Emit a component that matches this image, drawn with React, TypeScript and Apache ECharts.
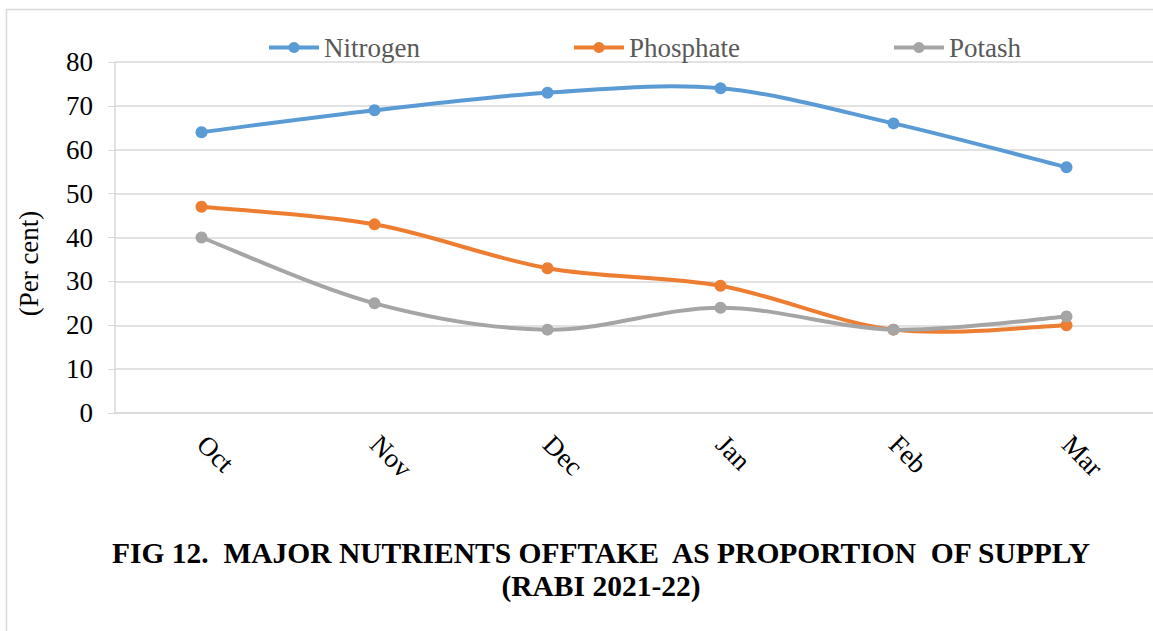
import React, { useEffect, useRef } from "react";
import * as echarts from "echarts";

const months = ["Oct", "Nov", "Dec", "Jan", "Feb", "Mar"];
const nitrogen = [64, 69, 73, 74, 66, 56];
const phosphate = [47, 43, 33, 29, 19, 20];
const potash = [40, 25, 19, 24, 19, 22];
const seriesNames = ["Nitrogen", "Phosphate", "Potash"];
const seriesColors = ["#5B9BD5", "#ED7D31", "#A5A5A5"];
const titleLines = [
  "FIG 12.  MAJOR NUTRIENTS OFFTAKE  AS PROPORTION  OF SUPPLY",
  "(RABI 2021-22)",
];
const yAxisName = "(Per cent)";

const FONT = "Liberation Serif";

// Smoothed (Catmull-Rom style) curve through the points, like a spreadsheet's smoothed line.
function makeCurveRenderer(vals: number[], color: string) {
  return (params: any, api: any) => {
    if (params.dataIndex !== 0) return null;
    const pts = vals.map((v, k) => api.coord([k, v]) as number[]);
    const n = pts.length;
    let d = `M${pts[0][0]},${pts[0][1]}`;
    for (let k = 0; k < n - 1; k++) {
      const p0 = pts[Math.max(0, k - 1)];
      const p1 = pts[k];
      const p2 = pts[k + 1];
      const p3 = pts[Math.min(n - 1, k + 2)];
      const c1x = p1[0] + (p2[0] - p0[0]) / 6;
      const c1y = p1[1] + (p2[1] - p0[1]) / 6;
      const c2x = p2[0] - (p3[0] - p1[0]) / 6;
      const c2y = p2[1] - (p3[1] - p1[1]) / 6;
      d += ` C${c1x},${c1y} ${c2x},${c2y} ${p2[0]},${p2[1]}`;
    }
    return {
      type: "path",
      shape: { pathData: d },
      style: { fill: "none", stroke: color, lineWidth: 4, lineCap: "round", lineJoin: "round" },
      silent: true,
    };
  };
}

export default function App() {
  const ref = useRef<HTMLDivElement>(null);
  useEffect(() => {
    if (!ref.current) return;
    const chart = echarts.init(ref.current, undefined, { renderer: "svg" });
    const values = [nitrogen, phosphate, potash];
    const curveSeries = seriesNames.map((name, i) => ({
      name: name + " curve",
      type: "custom",
      data: values[i].map((v, k) => [k, v]),
      encode: { x: 0, y: 1 },
      renderItem: makeCurveRenderer(values[i], seriesColors[i]),
      z: 2 + i * 2,
      silent: true,
    }));
    const pointSeries = seriesNames.map((name, i) => ({
      name,
      type: "line",
      data: values[i],
      symbol: "circle",
      symbolSize: 12,
      lineStyle: { width: 0, color: seriesColors[i] },
      itemStyle: { color: seriesColors[i] },
      z: 3 + i * 2,
    }));
    chart.setOption({
      animation: false,
      backgroundColor: "#ffffff",
      textStyle: { fontFamily: FONT },
      title: {
        text: titleLines.join("\n"),
        left: 596,
        top: 531,
        textAlign: "center",
        textStyle: {
          fontFamily: FONT,
          fontWeight: "bold",
          fontSize: 29.5,
          lineHeight: 33,
          color: "#000000",
        },
      },
      legend: {
        data: seriesNames,
        left: 262,
        top: 29,
        itemWidth: 50,
        itemHeight: 14,
        itemGap: 152,
        lineStyle: { width: 4, opacity: 1 },
        textStyle: { fontFamily: FONT, fontSize: 27, color: "#595959" },
      },
      grid: { left: 115, top: 62, width: 1045, height: 351 },
      xAxis: {
        type: "category",
        data: months,
        boundaryGap: true,
        axisLine: { show: true, lineStyle: { color: "#d9d9d9", width: 1.5 } },
        axisTick: { show: false },
        axisLabel: {
          rotate: -45,
          margin: 27,
          fontFamily: FONT,
          fontSize: 27,
          color: "#000000",
        },
      },
      yAxis: {
        type: "value",
        min: 0,
        max: 80,
        interval: 10,
        name: yAxisName,
        nameLocation: "middle",
        nameRotate: 90,
        nameGap: 73,
        nameTextStyle: {
          fontFamily: FONT,
          fontSize: 27,
          color: "#000000",
          padding: [0, 52, 0, 0],
        },
        axisLine: { show: true, lineStyle: { color: "#d9d9d9", width: 1.5 } },
        axisTick: { show: true, inside: false, length: 7, lineStyle: { color: "#d9d9d9" } },
        splitLine: { show: true, lineStyle: { color: "#d9d9d9", width: 1.5 } },
        axisLabel: { margin: 22, fontFamily: FONT, fontSize: 27, color: "#000000" },
      },
      graphic: [
        {
          type: "rect",
          shape: { x: 6.5, y: 9.5, width: 1200, height: 700 },
          style: { fill: "none", stroke: "#d9d9d9", lineWidth: 1.5 },
          silent: true,
          z: -10,
        },
      ],
      series: [...curveSeries, ...pointSeries],
    });
    return () => chart.dispose();
  }, []);
  return (
    <div
      ref={ref}
      style={{ position: "fixed", left: 0, top: 0, width: 1153, height: 631 }}
    />
  );
}
